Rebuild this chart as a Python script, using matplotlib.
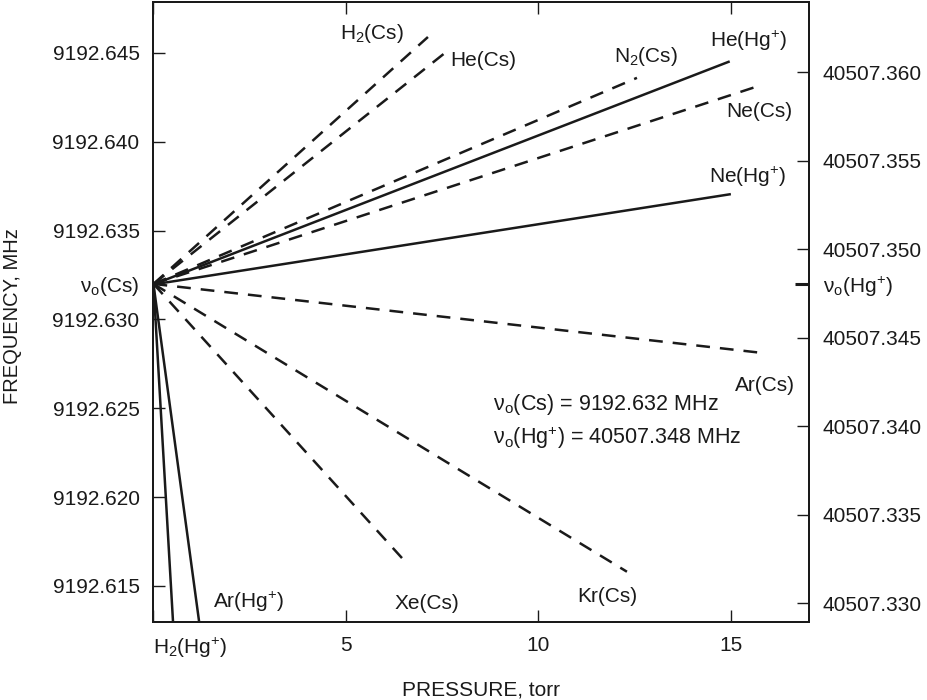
import matplotlib
matplotlib.use('Agg')
import matplotlib.pyplot as plt
import numpy as np

plt.rcParams['font.family'] = ['Liberation Sans', 'DejaVu Sans']
plt.rcParams['mathtext.fontset'] = 'custom'
plt.rcParams['mathtext.rm'] = 'Liberation Sans'
plt.rcParams['mathtext.it'] = 'Liberation Sans'

# reference frequencies, MHz
nu0_cs = 9192.632
nu0_hg = 40507.348

# Cs clock lines: end of each line (pressure in torr, shift in kHz)
cs_gases = ['H2', 'He', 'N2', 'Ne', 'Ar', 'Kr', 'Xe']
cs_p_end = [7.13, 7.57, 12.56, 15.8, 15.88, 12.3, 6.61]
cs_shift_end = [13.9, 13.0, 11.6, 11.2, -3.9, -16.2, -15.8]

# Hg+ clock lines
hg_gases = ['He', 'Ne', 'Ar', 'H2']
hg_p_end = [14.97, 15.0, 1.25, 0.54]
hg_shift_end = [12.6, 5.1, -20.1, -20.3]

# label text and where it sits (pressure, shift in kHz from nu0)
labels = ['H$_2$(Cs)', 'He(Cs)', 'N$_2$(Cs)', 'He(Hg$^{+}$)', 'Ne(Cs)', 'Ne(Hg$^{+}$)',
          'Ar(Cs)', 'Kr(Cs)', 'Xe(Cs)', 'Ar(Hg$^{+}$)']
label_p = [5.67, 8.56, 12.8, 15.47, 15.73, 15.44, 15.88, 11.8, 7.1, 2.48]
label_shift = [14.1, 12.6, 12.8, 13.65, 9.7, 6.05, -5.7, -17.6, -18.0, -17.9]

left_ticks = [9192.615, 9192.620, 9192.625, 9192.630, 9192.635, 9192.640, 9192.645]
right_ticks = [40507.330, 40507.335, 40507.340, 40507.345, 40507.350, 40507.355, 40507.360]

ink = '#1a1a1a'
fig = plt.figure(figsize=(9.28, 7.0), dpi=100)
ax = fig.add_axes([153.5 / 928, 1 - 622 / 700, (809 - 153.5) / 928, 620 / 700])
ax2 = ax.twinx()

ax.set_xlim(0, 17.03)
ax.set_ylim(9192.61297, 9192.64787)
ax2.set_ylim(40507.328927, 40507.363955)

for g, p, s in zip(cs_gases, cs_p_end, cs_shift_end):
    ax.plot([0, p], [nu0_cs, nu0_cs + s / 1000], color=ink, lw=1.8,
            dashes=(5.5, 4), solid_capstyle='butt')
for g, p, s in zip(hg_gases, hg_p_end, hg_shift_end):
    ax2.plot([0, p], [nu0_hg, nu0_hg + s / 1000], color=ink, lw=1.8,
             solid_capstyle='butt')

for t, p, s in zip(labels, label_p, label_shift):
    ax.text(p, nu0_cs + s / 1000, t, fontsize=15, ha='center', va='center', color=ink)

ax.text(8.82, nu0_cs - 6.8 / 1000, '\u03bd$_\\mathrm{o}$(Cs) = 9192.632 MHz', fontsize=15.5,
        ha='left', va='center', color=ink)
ax.text(8.82, nu0_cs - 8.65 / 1000, '\u03bd$_\\mathrm{o}$(Hg$^{+}$) = 40507.348 MHz', fontsize=15.5,
        ha='left', va='center', color=ink)

# axes styling
for a in (ax, ax2):
    for sp in a.spines.values():
        sp.set_linewidth(1.4)
        sp.set_color(ink)

ax.set_xticks([0, 5, 10, 15], labels=['H$_2$(Hg$^{+}$)', '5', '10', '15'])
ax.get_xticklabels()[0].set_ha('left')
ax.set_yticks(left_ticks, labels=[f'{v:.3f}' for v in left_ticks])
ax.set_yticks([nu0_cs], labels=['\u03bd$_\\mathrm{o}$(Cs)'], minor=True)
ax.tick_params(axis='both', which='major', direction='in', length=8.6, width=1,
               color=ink, labelsize=15, labelcolor=ink, top=True, right=False)
ax.tick_params(axis='x', pad=10)
ax.tick_params(axis='y', pad=10)
ax.tick_params(axis='y', which='minor', length=0, labelsize=15, pad=10, labelcolor=ink)

ax2.set_yticks(right_ticks, labels=[f'{v:.3f}' for v in right_ticks])
ax2.set_yticks([nu0_hg], labels=['\u03bd$_\\mathrm{o}$(Hg$^{+}$)'], minor=True)
ax2.tick_params(axis='y', which='major', direction='in', length=8.6, width=1,
                color=ink, labelsize=15, labelcolor=ink, pad=10)
ax2.tick_params(axis='y', which='minor', direction='in', length=10, width=2.2,
                color=ink, labelsize=15, labelcolor=ink, pad=10)

fig.text(481 / 928, 1 - 690 / 700, 'PRESSURE, torr', fontsize=15, ha='center', va='center', color=ink)
fig.text(13 / 928, 1 - 316 / 700, 'FREQUENCY, MHz', fontsize=14.5, rotation=90,
         ha='center', va='center', color=ink)

fig.savefig('out.png', dpi=100)
